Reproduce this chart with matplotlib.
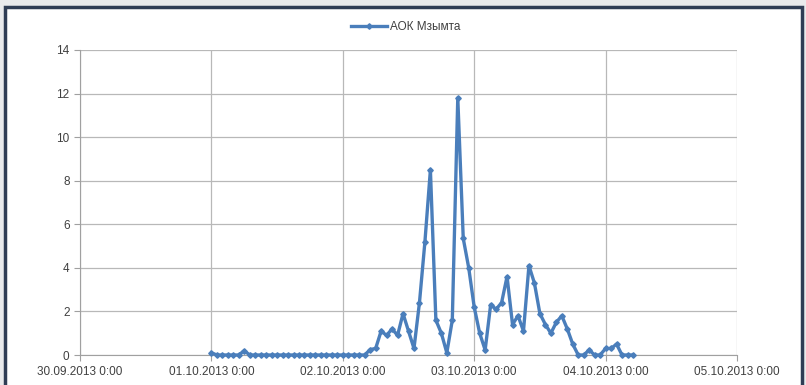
import numpy as np
import pandas as pd
import matplotlib
matplotlib.use("Agg")
import matplotlib.pyplot as plt
import matplotlib.dates as mdates
from matplotlib.patches import Rectangle

# hourly readings starting 01.10.2013 0:00
start_time = "2013-10-01 00:00"
values = [
    0.1, 0, 0, 0, 0, 0, 0.2, 0, 0, 0, 0, 0, 0, 0, 0, 0, 0, 0, 0, 0,
    0, 0, 0, 0, 0, 0, 0, 0, 0, 0.25, 0.3, 1.1, 0.9, 1.2, 0.9, 1.9, 1.1, 0.3, 2.4, 5.2,
    8.5, 1.6, 1.0, 0.1, 1.6, 11.8, 5.35, 4.0, 2.2, 1.0, 0.23, 2.3, 2.1, 2.4, 3.6, 1.4, 1.8, 1.1, 4.1, 3.3,
    1.9, 1.4, 1.0, 1.5, 1.8, 1.2, 0.5, 0, 0, 0.23, 0, 0, 0.3, 0.3, 0.5, 0, 0, 0,
]
series_name = "АОК Мзымта"
x_min, x_max = "2013-09-30", "2013-10-05"
y_ticks = [0, 2, 4, 6, 8, 10, 12, 14]

times = pd.date_range(start_time, periods=len(values), freq="h")

plt.rcParams['font.family'] = ['Liberation Sans', 'DejaVu Sans']

fig = plt.figure(figsize=(8.06, 3.85), dpi=100)
fig.patch.set_facecolor("#e9eaec")

# white chart area with dark frame
fig.patches.append(Rectangle((5 / 806, -0.05), 797 / 806, 1 - 7 / 385 + 0.05,
                             transform=fig.transFigure, facecolor="white",
                             edgecolor="#2f3d55", linewidth=2.5, zorder=-10))

ax = fig.add_axes([80 / 806, 1 - 355 / 385, 657 / 806, 305 / 385])
ax.plot(times, values, color="#4a7ebb", linewidth=2.4, marker="D",
        markersize=2.8, label=series_name, zorder=3, clip_on=False)

ax.set_xlim(pd.Timestamp(x_min), pd.Timestamp(x_max))
ax.set_ylim(0, 14)
ax.set_yticks(y_ticks)
ax.xaxis.set_major_locator(mdates.DayLocator())
ax.xaxis.set_major_formatter(plt.FuncFormatter(
    lambda v, p: mdates.num2date(v).strftime("%d.%m.%Y ") + "0:00"))

ax.grid(True, color="#b8b8b8", linewidth=0.9)
ax.set_axisbelow(True)
for s in ["top", "right"]:
    ax.spines[s].set_visible(False)
for s in ["left", "bottom"]:
    ax.spines[s].set_color("#a0a0a0")
ax.tick_params(axis="both", colors="#a0a0a0", labelcolor="#404040",
               labelsize=8.5, length=4, direction="out")
ax.tick_params(axis="x", pad=4)
ax.set_facecolor("none")

leg = fig.legend(loc="center", bbox_to_anchor=(406 / 806, 1 - 27 / 385),
                 frameon=False, fontsize=8.5, handlelength=3, handletextpad=0.3)
for t in leg.get_texts():
    t.set_color("#404040")

fig.savefig("out.png", dpi=100, facecolor=fig.get_facecolor())
